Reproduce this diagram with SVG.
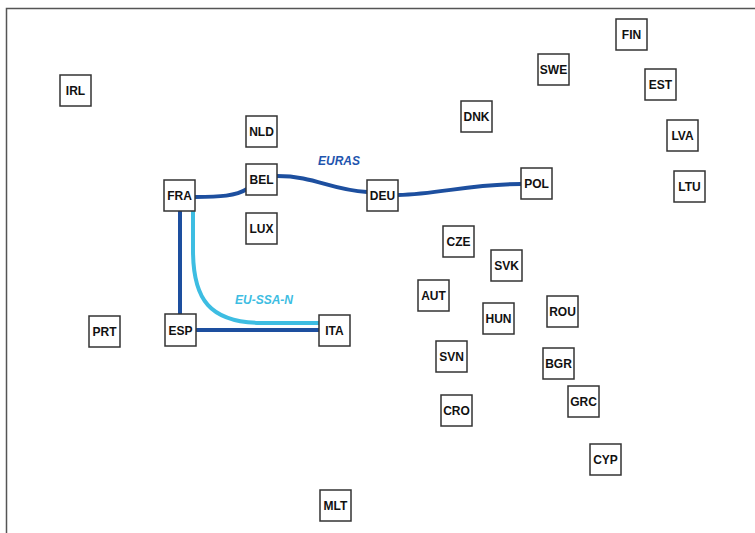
<svg xmlns="http://www.w3.org/2000/svg" width="755" height="533" viewBox="0 0 755 533">
<style>
.n rect{fill:#fff;stroke:#333;stroke-width:1.5}
.n text{font-family:"Liberation Sans",Arial,sans-serif;font-weight:bold;font-size:12px;fill:#111;text-anchor:middle}
.e{fill:none;stroke-width:4;stroke-linecap:butt}
.d{stroke:#1d4f9f}
.c{stroke:#3dbde2}
.lbl{font-family:"Liberation Sans",Arial,sans-serif;font-weight:bold;font-style:italic;font-size:12px}
</style>
<rect x="0" y="0" width="755" height="533" fill="#fff"/>
<path d="M6.5,533 V8.5 H755" fill="none" stroke="#555" stroke-width="1.5"/>
<g id="connectors">
<path class="e d" d="M195,197 C220,197 236,196 247,189"/>
<path class="e d" d="M277,176 C315,176 330,190 367,192"/>
<path class="e d" d="M398,195 C440,194 470,184 521,184"/>
<path class="e d" d="M180,211 V314"/>
<path class="e d" d="M196,330 H319"/>
<path class="e c" d="M193,211 L193,250 C193,300 210,322 260,323 L319,323"/>
<text class="lbl" x="318" y="165" fill="#1f55ae">EURAS</text>
<text class="lbl" x="235" y="304" fill="#3dbde2">EU-SSA-N</text>
</g>
<g id="FIN" class="n"><rect x="616" y="19" width="31" height="31"/><text x="631.5" y="39">FIN</text></g>
<g id="SWE" class="n"><rect x="538" y="54" width="31" height="31"/><text x="553.5" y="74">SWE</text></g>
<g id="EST" class="n"><rect x="645" y="69" width="31" height="31"/><text x="660.5" y="89">EST</text></g>
<g id="IRL" class="n"><rect x="60" y="75" width="31" height="31"/><text x="75.5" y="95">IRL</text></g>
<g id="DNK" class="n"><rect x="461" y="101" width="31" height="31"/><text x="476.5" y="121">DNK</text></g>
<g id="NLD" class="n"><rect x="246" y="116" width="31" height="31"/><text x="261.5" y="136">NLD</text></g>
<g id="LVA" class="n"><rect x="667" y="120" width="31" height="31"/><text x="682.5" y="140">LVA</text></g>
<g id="BEL" class="n"><rect x="246" y="164" width="31" height="31"/><text x="261.5" y="184">BEL</text></g>
<g id="FRA" class="n"><rect x="164" y="180" width="31" height="31"/><text x="179.5" y="200">FRA</text></g>
<g id="DEU" class="n"><rect x="367" y="180" width="31" height="31"/><text x="382.5" y="200">DEU</text></g>
<g id="POL" class="n"><rect x="521" y="168" width="31" height="31"/><text x="536.5" y="188">POL</text></g>
<g id="LTU" class="n"><rect x="674" y="171" width="31" height="31"/><text x="689.5" y="191">LTU</text></g>
<g id="LUX" class="n"><rect x="246" y="213" width="31" height="31"/><text x="261.5" y="233">LUX</text></g>
<g id="CZE" class="n"><rect x="443" y="226" width="31" height="31"/><text x="458.5" y="246">CZE</text></g>
<g id="SVK" class="n"><rect x="491" y="250" width="31" height="31"/><text x="506.5" y="270">SVK</text></g>
<g id="AUT" class="n"><rect x="418" y="280" width="31" height="31"/><text x="433.5" y="300">AUT</text></g>
<g id="ROU" class="n"><rect x="547" y="296" width="31" height="31"/><text x="562.5" y="316">ROU</text></g>
<g id="HUN" class="n"><rect x="483" y="303" width="31" height="31"/><text x="498.5" y="323">HUN</text></g>
<g id="PRT" class="n"><rect x="89" y="316" width="31" height="31"/><text x="104.5" y="336">PRT</text></g>
<g id="ESP" class="n"><rect x="165" y="314" width="31" height="32"/><text x="180.5" y="334.5">ESP</text></g>
<g id="ITA" class="n"><rect x="319" y="315" width="31" height="31"/><text x="334.5" y="335">ITA</text></g>
<g id="SVN" class="n"><rect x="436" y="341" width="31" height="31"/><text x="451.5" y="361">SVN</text></g>
<g id="BGR" class="n"><rect x="543" y="348" width="31" height="31"/><text x="558.5" y="368">BGR</text></g>
<g id="GRC" class="n"><rect x="568" y="386" width="31" height="31"/><text x="583.5" y="406">GRC</text></g>
<g id="CRO" class="n"><rect x="441" y="395" width="31" height="31"/><text x="456.5" y="415">CRO</text></g>
<g id="CYP" class="n"><rect x="590" y="444" width="31" height="31"/><text x="605.5" y="464">CYP</text></g>
<g id="MLT" class="n"><rect x="320" y="490" width="31" height="31"/><text x="335.5" y="510">MLT</text></g>
</svg>
